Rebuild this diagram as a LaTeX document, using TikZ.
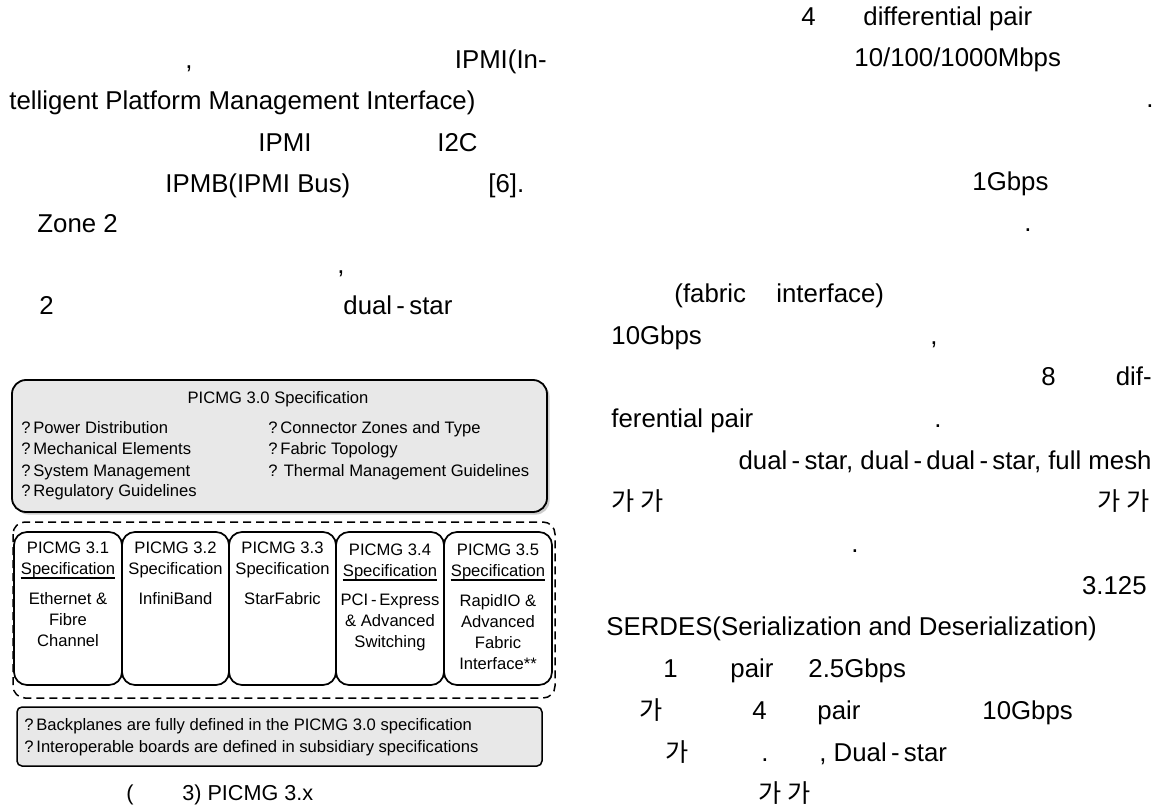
\documentclass[tikz,border=0pt]{standalone}
\usepackage{fontspec}
\setmainfont{Liberation Sans}
\newfontfamily\kofont{Noto Sans CJK KR}
\usepackage{tikz}
\usetikzlibrary{positioning,shadows}

\begin{document}
\begin{tikzpicture}[x=0.5pt, y=-0.5pt,
    txt/.style={anchor=base west, inner sep=0pt, font=\fontsize{12.9}{15}\selectfont},
    txtr/.style={txt, anchor=base east},
    kor/.style={txt, font=\kofont\fontsize{12.6}{15}\selectfont},
    korr/.style={kor, anchor=base east},
    fig/.style={anchor=base, inner sep=0pt, font=\fontsize{8.3}{10.5}\selectfont},
    item/.style={fig, anchor=base west},
    specbox/.style={draw, fill=white, line width=0.85pt, rounded corners=6.5pt},
    uline/.style={line width=1.2pt}]
    \useasboundingbox (0,0) rectangle (1156,808);

    % Left column text
    \node (l1a) at (185,69) [txt] {,}; \node (l1b) at (547,69) [txtr] {IPMI(In-};
    \node (l2a) at (9,110) [txt] {telligent Platform Management Interface)};
    \node (l3a) at (258,151) [txt] {IPMI}; \node (l3b) at (437,151) [txt] {I2C};
    \node (l4a) at (165,192) [txt] {IPMB(IPMI Bus)}; \node (l4b) at (488,192) [txt] {[6].};
    \node (l5a) at (37,232) [txt] {Zone 2};
    \node (l6a) at (337,273) [txt] {,};
    \node (l7a) at (39,314) [txt] {2}; \node (l7b) at (343,314) [txt] {dual\,-\,star};

    % Right column text
    \node (r1a) at (801,26) [txt] {4}; \node (r1b) at (863,26) [txt] {differential pair};
    \node (r2a) at (854,67) [txt] {10/100/1000Mbps};
    \node (r3a) at (1146,108) [txt] {.};
    \node (r5a) at (972,190) [txt] {1Gbps};
    \node (r6a) at (1024,231) [txt] {.};
    \node (r8a) at (674,302) [txt] {(fabric}; \node (r8b) at (776,302) [txt] {interface)};
    \node (r9a) at (611,344) [txt] {10Gbps}; \node (r9b) at (930,344) [txt] {,};
    \node (r10a) at (1041,385) [txt] {8}; \node (r10b) at (1152,385) [txtr] {dif-};
    \node (r11a) at (611,427) [txt] {ferential pair}; \node (r11b) at (934,427) [txt] {.};
    \node (r12a) at (1152,469) [txtr] {dual\,-\,star, dual\,-\,dual\,-\,star, full mesh};
    \node (r13a) at (611,510) [kor] {가 가}; \node (r13b) at (1150,510) [korr] {가 가};
    \node (r14a) at (851,552) [txt] {.};
    \node (r15a) at (1147,594) [txtr] {3.125};
    \node (r16a) at (606,635) [txt] {SERDES(Serialization and Deserialization)};
    \node (r17a) at (663,677) [txt] {1}; \node (r17b) at (730,677) [txt] {pair}; \node (r17c) at (808,677) [txt] {2.5Gbps};
    \node (r18a) at (639,719) [kor] {가}; \node (r18b) at (752,719) [txt] {4};
    \node (r18c) at (817,719) [txt] {pair}; \node (r18d) at (982,719) [txt] {10Gbps};
    \node (r19a) at (665,761) [kor] {가}; \node (r19b) at (761,761) [txt] {.};
    \node (r19c) at (819,761) [txt] {, Dual\,-\,star};
    \node (r20a) at (758,802) [kor] {가 가};

    % PICMG 3.0 box
    \draw [line width=0.9pt, fill=black!9, rounded corners=7pt,
        drop shadow={shadow xshift=1.3pt, shadow yshift=-1.3pt, fill=black!40}] (12,380) rectangle (547,512);
    \node (base) at (278,403) [fig] {PICMG 3.0 Specification};
    \node (p1) at (21,433) [item] {?\,Power Distribution};
    \node (p2) at (21,454) [item] {?\,Mechanical Elements};
    \node (p3) at (21,476) [item] {?\,System Management};
    \node (p4) at (21,496) [item] {?\,Regulatory Guidelines};
    \node (p5) at (268,433) [item] {?\,Connector Zones and Type};
    \node (p6) at (268,454) [item] {?\,Fabric Topology};
    \node (p7) at (268,476) [item] {? Thermal Management Guidelines};

    % Subsidiary specifications
    \draw [line width=0.75pt, dash pattern=on 4pt off 2.5pt, rounded corners=6pt] (13,522) rectangle (555,698);
    \draw [specbox] (14,532) rectangle (122,685); \draw [specbox] (122,532) rectangle (229,685);
    \draw [specbox] (229,532) rectangle (336,685); \draw [specbox] (336,532) rectangle (444,685);
    \draw [specbox] (444,532) rectangle (552,685);

    \node (h1) at (68,553) [fig] {PICMG 3.1}; \node (s1) at (68,574) [fig] {Specification};
    \node (h2) at (175.5,553) [fig] {PICMG 3.2}; \node (s2) at (175.5,574) [fig] {Specification};
    \node (h3) at (282.5,553) [fig] {PICMG 3.3}; \node (s3) at (282.5,574) [fig] {Specification};
    \node (h4) at (390,555) [fig] {PICMG 3.4}; \node (s4) at (390,576) [fig] {Specification};
    \node (h5) at (498,555) [fig] {PICMG 3.5}; \node (s5) at (498,576) [fig] {Specification};
    \draw [uline] (s1.south west) -- (s1.south east);
    \draw [uline] (s4.south west) -- (s4.south east);
    \draw [uline] (s5.south west) -- (s5.south east);

    \node (e1) at (68,592) [fig, anchor=north, align=center] {Ethernet \&\\Fibre\\Channel};
    \node (e2) at (175.5,592) [fig, anchor=north, align=center] {InfiniBand};
    \node (e3) at (282.5,592) [fig, anchor=north, align=center] {StarFabric};
    \node (e4) at (390,594) [fig, anchor=north, align=center] {PCI\,-\,Express\\\& Advanced\\Switching};
    \node (e5) at (498,594) [fig, anchor=north, align=center] {RapidIO \&\\Advanced\\Fabric\\Interface**};

    % Notes box
    \draw [line width=0.75pt, fill=black!9, rounded corners=2.5pt] (17,707) rectangle (542,766);
    \node (n1) at (24,730) [item] {?\,Backplanes are fully defined in the PICMG 3.0 specification};
    \node (n2) at (24,752) [item] {?\,Interoperable boards are defined in subsidiary specifications};

    % Caption
    \node (c1) at (126,800) [txt, font=\fontsize{10.8}{13}\selectfont] {(};
    \node (c2) at (182,800) [txt, font=\fontsize{10.8}{13}\selectfont] {3) PICMG 3.x};
\end{tikzpicture}
\end{document}
